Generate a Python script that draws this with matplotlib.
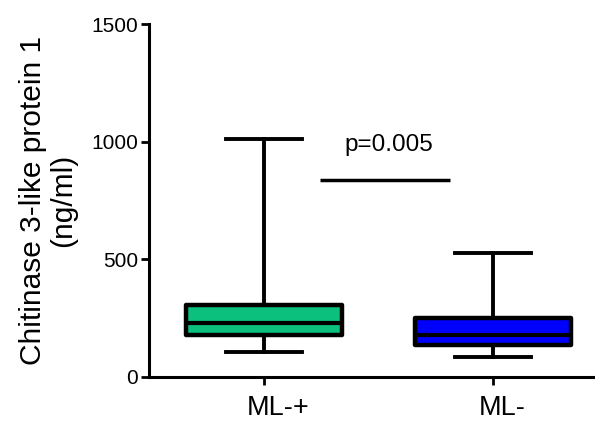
import matplotlib
matplotlib.use('Agg')
import matplotlib.pyplot as plt
import matplotlib.transforms as mtransforms

plt.rcParams['font.family'] = ['Liberation Sans', 'DejaVu Sans']

# box plot stats (ng/ml)
groups = ['ML-+', 'ML-']
whislo = [106, 85]
q1 = [178, 137]
med = [229, 177]
q3 = [306, 249]
whishi = [1011, 527]
colors = ['#0bbf7c', '#0000ff']
p_text = 'p=0.005'
p_line_y = 837

stats = []
for i in range(len(groups)):
    stats.append({'label': groups[i], 'whislo': whislo[i], 'q1': q1[i],
                  'med': med[i], 'q3': q3[i], 'whishi': whishi[i], 'fliers': []})

fig = plt.figure(figsize=(5.95, 4.23), dpi=100)
ax = fig.add_axes([149/595, 1-377/423, 1-149/595, (377-24)/423])

bp = ax.bxp(stats, positions=[1, 2], widths=0.68, patch_artist=True,
            showfliers=False,
            boxprops=dict(linewidth=3.2, edgecolor='black', joinstyle='round'),
            medianprops=dict(color='black', linewidth=3),
            whiskerprops=dict(color='black', linewidth=2.8),
            capprops=dict(color='black', linewidth=2.8), capwidths=0.33)
for patch, c in zip(bp['boxes'], colors):
    patch.set_facecolor(c)

# significance bar
ax.plot([1.245, 1.812], [p_line_y, p_line_y], color='black', linewidth=2.5,
        solid_capstyle='butt')
ax.text(1.545, 985, p_text, ha='center', va='center', fontsize=17.5)

ax.set_xlim(1 - 115/229, 2 + 102/229)
ax.set_ylim(0, 1500)
ax.set_yticks([0, 500, 1000, 1500])
ax.set_xticks([1, 2])
ax.set_xticklabels(groups, fontsize=19.5)
ax.tick_params(axis='y', labelsize=15, width=2, length=6, pad=2)
ax.tick_params(axis='x', width=2, length=6, pad=7)
# labels sit a little right of their ticks in the original
for lab, dx in zip(ax.get_xticklabels(), [14, 9]):
    lab.set_transform(lab.get_transform() +
                      mtransforms.ScaledTranslation(dx/100, 0, fig.dpi_scale_trans))
ax.set_ylabel('Chitinase 3-like protein 1\n(ng/ml)', fontsize=21.5, labelpad=10,
              linespacing=1.1)

for s in ['top', 'right']:
    ax.spines[s].set_visible(False)
for s in ['left', 'bottom']:
    ax.spines[s].set_linewidth(2.2)

fig.savefig('out.png', dpi=100)
